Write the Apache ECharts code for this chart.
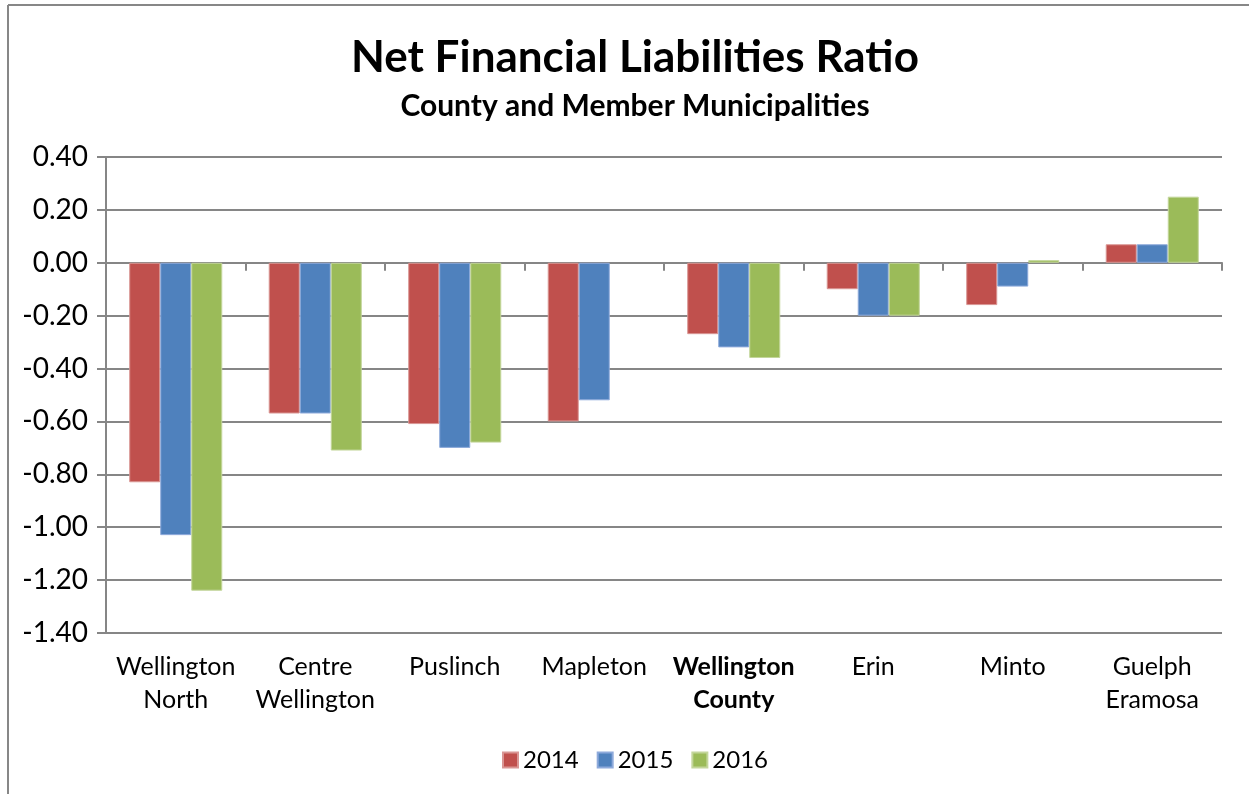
<!DOCTYPE html>
<html>
<head>
<meta charset="utf-8">
<script src="https://cdn.jsdelivr.net/npm/echarts@6/dist/echarts.min.js"></script>
<style>
html,body{margin:0;padding:0;background:#fff;}
#c{width:1249px;height:794px;}
</style>
</head>
<body>
<div id="c"></div>
<script>
const categories = ['Wellington\nNorth', 'Centre\nWellington', 'Puslinch', 'Mapleton', '{b|Wellington\nCounty}', 'Erin', 'Minto', 'Guelph\nEramosa'];
const seriesNames = ['2014', '2015', '2016'];
const values2014 = [-0.83, -0.57, -0.61, -0.60, -0.27, -0.10, -0.16, 0.07];
const values2015 = [-1.03, -0.57, -0.70, -0.52, -0.32, -0.20, -0.09, 0.07];
const values2016 = [-1.24, -0.71, -0.68, null, -0.36, -0.20, 0.01, 0.25];
const colors = ['#C0504D', '#4F81BD', '#9BBB59'];
const borders = ['#D99694', '#8EAADB', '#C3D69B'];

const FONT = 'Lato, "Open Sans", sans-serif';
const chart = echarts.init(document.getElementById('c'), null, {renderer: 'canvas'});
const allValues = [values2014, values2015, values2016];

chart.setOption({
  animation: false,
  color: colors,
  title: [{
    text: 'Net Financial Liabilities Ratio',
    left: 630, top: 31, textAlign: 'center',
    textStyle: {fontFamily: FONT, fontWeight: 'bold', fontSize: 44, color: '#000'}
  }, {
    text: 'County and Member Municipalities',
    left: 630, top: 86, textAlign: 'center',
    textStyle: {fontFamily: FONT, fontWeight: 'bold', fontSize: 30, color: '#000'}
  }],
  graphic: [
    {type: 'line', shape: {x1: 8, y1: 5, x2: 1249, y2: 5}, style: {stroke: '#878787', lineWidth: 2}},
    {type: 'line', shape: {x1: 8, y1: 5, x2: 8, y2: 794}, style: {stroke: '#878787', lineWidth: 2}}
  ],
  legend: {
    data: seriesNames,
    left: 497, top: 743,
    itemWidth: 15, itemHeight: 15, itemGap: 18,
    icon: 'rect',
    textStyle: {fontFamily: FONT, fontSize: 24, color: '#000'}
  },
  grid: {left: 106, right: 27, top: 157, bottom: 161, containLabel: false},
  xAxis: [{
    type: 'category',
    data: categories,
    position: 'bottom',
    axisLine: {show: false, onZero: false},
    axisTick: {show: false},
    axisLabel: {
      interval: 0, margin: 17,
      fontFamily: FONT, fontSize: 25, color: '#000', lineHeight: 33,
      rich: {b: {fontFamily: FONT, fontSize: 25, fontWeight: 'bold', color: '#000', lineHeight: 33}}
    }
  }, {
    type: 'category',
    data: categories,
    position: 'bottom',
    axisLine: {show: true, onZero: true, lineStyle: {color: '#868686', width: 2}},
    axisTick: {show: true, length: 8, alignWithLabel: false, lineStyle: {color: '#868686', width: 2}},
    axisLabel: {show: false}
  }],
  yAxis: {
    type: 'value',
    min: -1.4, max: 0.4, interval: 0.2,
    axisLine: {show: true, lineStyle: {color: '#868686', width: 2}},
    axisTick: {show: true, length: 9, lineStyle: {color: '#868686', width: 2}},
    splitLine: {show: true, lineStyle: {color: '#868686', width: 2}},
    axisLabel: {
      margin: 18,
      fontFamily: FONT, fontSize: 28, color: '#000',
      formatter: v => (Math.abs(v) < 1e-9 ? 0 : v).toFixed(2)
    }
  },
  series: seriesNames.map((n, i) => ({
    name: n,
    type: 'bar',
    xAxisIndex: 0,
    data: allValues[i],
    barGap: '0%',
    barCategoryGap: '33.3%',
    itemStyle: {color: colors[i], borderColor: borders[i], borderWidth: 1}
  }))
});
</script>
</body>
</html>
